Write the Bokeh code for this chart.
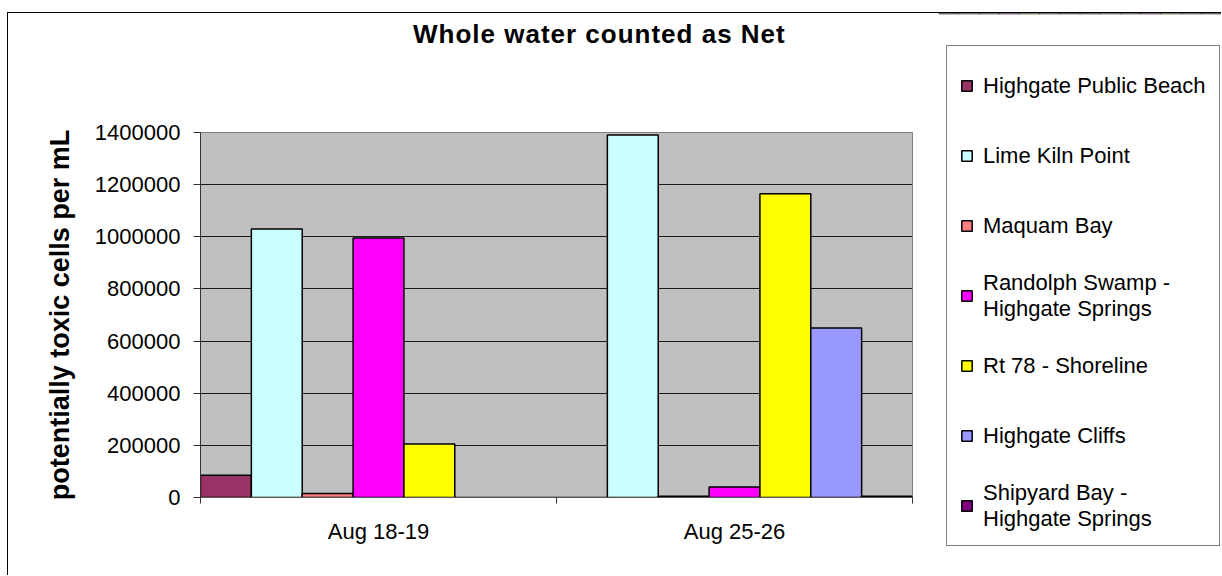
from bokeh.plotting import figure
from bokeh.models import (ColumnDataSource, Range1d, FixedTicker, Div,
                          NumeralTickFormatter, Legend, LegendItem)
from bokeh.layouts import row, column
from bokeh.embed import file_html
from bokeh.resources import INLINE

# ---- data ----
dates = ["Aug 18-19", "Aug 25-26"]
sites = ["Highgate Public Beach", "Lime Kiln Point", "Maquam Bay",
         "Randolph Swamp -\nHighgate Springs", "Rt 78 - Shoreline", "Highgate Cliffs",
         "Shipyard Bay -\nHighgate Springs"]
highgate_public_beach = [85000, 0]
lime_kiln_point = [1030000, 1390000]
maquam_bay = [15000, 5000]
randolph_swamp = [995000, 40000]
rt78_shoreline = [205000, 1165000]
highgate_cliffs = [0, 650000]
shipyard_bay = [0, 5000]
series_values = [highgate_public_beach, lime_kiln_point, maquam_bay, randolph_swamp,
                 rt78_shoreline, highgate_cliffs, shipyard_bay]
colors = ["#993366", "#CCFFFF", "#FF8080", "#FF00FF", "#FFFF00", "#9999FF", "#800080"]
y_ticks = [0, 200000, 400000, 600000, 800000, 1000000, 1200000, 1400000]
title_text = "Whole water counted as Net"
y_title = "potentially toxic cells per mL"

FONT = "Liberation Sans"
n = len(sites)
g = len(dates)

# ---------- main chart ----------
p = figure(x_range=Range1d(0, g), y_range=Range1d(0, max(y_ticks)),
           width=930, height=526, output_backend="svg", toolbar_location=None,
           min_border_left=192, min_border_right=26, min_border_top=83, min_border_bottom=78)
p.background_fill_color = "#C0C0C0"
p.border_fill_color = "white"
p.outline_line_color = "#808080"
p.outline_line_width = 1

sources = []
for i, (vals, col) in enumerate(zip(series_values, colors)):
    # each date is one unit on x; the series sit side by side inside it
    xs = [j + (i + 0.5) / n for j in range(g)]
    src = ColumnDataSource(dict(x=xs, value=vals, date=dates))
    sources.append(src)
    p.vbar(x="x", top="value", width=1 / n, source=src,
           fill_color=col, line_color="black", line_width=1.5)

# y axis
p.yaxis.ticker = FixedTicker(ticks=y_ticks)
p.ygrid.ticker = FixedTicker(ticks=y_ticks)
p.yaxis.formatter = NumeralTickFormatter(format="0")
p.yaxis.major_label_text_font = FONT
p.yaxis.major_label_text_font_size = "22px"
p.yaxis.major_label_text_color = "black"
p.yaxis.major_tick_out = 7
p.yaxis.major_tick_in = 0
p.yaxis.minor_tick_line_color = None
p.yaxis.axis_line_color = "#333333"
p.yaxis.major_tick_line_color = "#333333"
p.yaxis.major_label_standoff = 13
p.yaxis.axis_label = y_title
p.yaxis.axis_label_text_font = FONT
p.yaxis.axis_label_text_font_size = "27px"
p.yaxis.axis_label_text_font_style = "bold"
p.yaxis.axis_label_text_color = "black"
p.yaxis.axis_label_standoff = 17
p.ygrid.grid_line_color = "#1a1a1a"
p.ygrid.grid_line_width = 1
p.xgrid.visible = False

# x axis: labels at group centres, tick marks at group boundaries
xa = p.xaxis[0]
xa.ticker = FixedTicker(ticks=[j + 0.5 for j in range(g)], minor_ticks=list(range(g + 1)))
xa.major_label_overrides = {j + 0.5: d for j, d in enumerate(dates)}
xa.major_tick_out = 0
xa.major_tick_in = 0
xa.minor_tick_out = 6
xa.minor_tick_in = 0
xa.axis_line_color = "#555555"
xa.minor_tick_line_color = "#333333"
xa.major_label_text_font = FONT
xa.major_label_text_font_size = "22px"
xa.major_label_text_color = "black"
xa.major_label_standoff = 15

# ---------- title ----------
title_div = Div(
    text=(f'<div style="font-family:\'{FONT}\';font-weight:bold;font-size:26px;'
          f'line-height:27px;padding-top:8px;padding-left:405px;letter-spacing:1px;'
          f'white-space:nowrap;color:black">{title_text}</div>'),
    width=930, height=36, margin=0)

# ---------- legend panel ----------
pb = figure(x_range=Range1d(0, g), y_range=Range1d(-2, -1),
            width=283, height=562, output_backend="svg", toolbar_location=None,
            x_axis_location=None, y_axis_location=None,
            min_border_left=0, min_border_right=0, min_border_top=0, min_border_bottom=0)
pb.outline_line_color = None
pb.grid.visible = False
pb.background_fill_color = "white"
pb.border_fill_color = "white"
leg_renderers = []
for src, col in zip(sources, colors):
    leg_renderers.append(pb.vbar(x="x", top="value", width=1 / n, source=src,
                                 fill_color=col, line_color="black", line_width=1.5))

legend = Legend(items=[LegendItem(label=s, renderers=[r]) for s, r in zip(sites, leg_renderers)],
                location=(8, 29), orientation="vertical",
                border_line_color="black", border_line_width=1,
                background_fill_color="white", background_fill_alpha=1,
                padding=13, spacing=17, margin=0,
                glyph_width=13, glyph_height=13, label_height=53, label_standoff=10,
                label_text_font=FONT, label_text_font_size="22px",
                label_text_color="black")
pb.add_layout(legend, "center")

layout = row(column(title_div, p, spacing=0), pb, spacing=0)
layout.styles = {"margin-left": "7px", "margin-top": "12px",
                 "border-left": "1px solid black", "border-top": "1px solid black"}

open("out.html", "w").write(file_html(layout, INLINE))
